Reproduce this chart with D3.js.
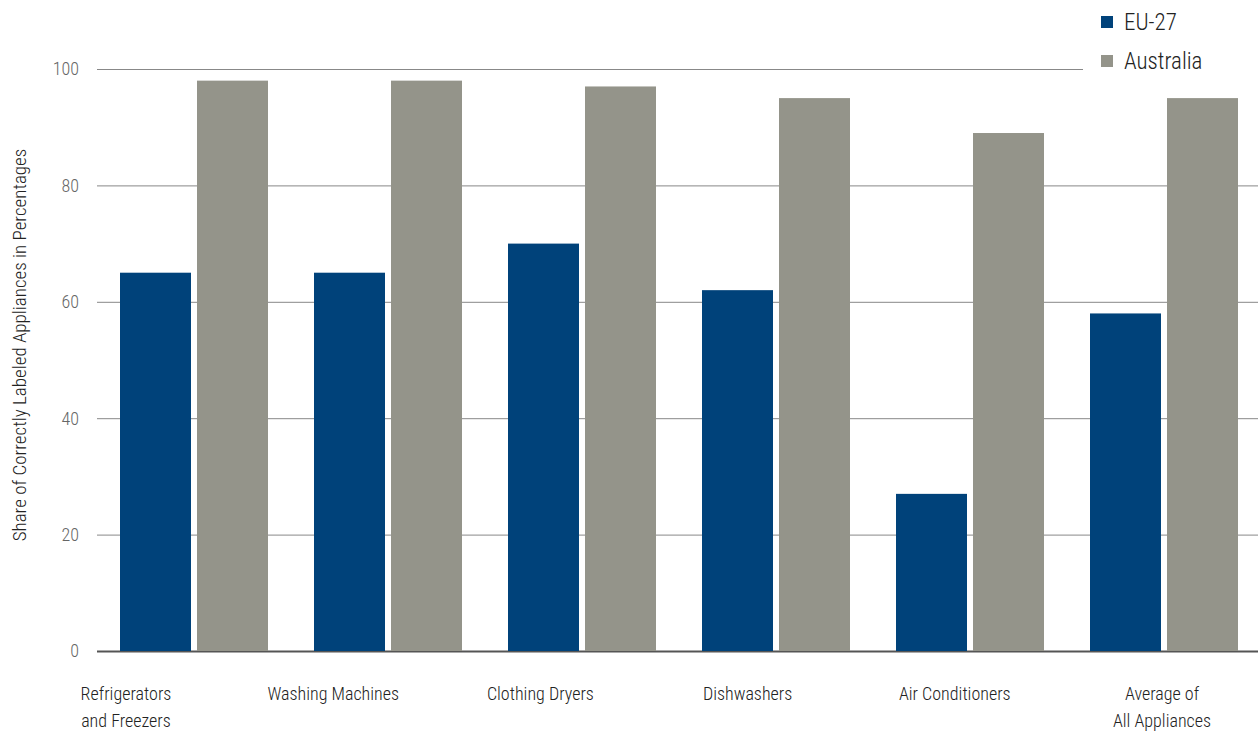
<!DOCTYPE html>
<html>
<head>
<meta charset="utf-8">
<script src="https://cdn.jsdelivr.net/npm/d3@7"></script>
<style>
  body { margin: 0; background: #fff; }
  svg { display: block; font-family: "Roboto Condensed", Roboto, sans-serif; font-stretch: condensed; font-weight: 300; }
</style>
</head>
<body>
<div class="chart"></div>
<script>
// categories and values
const categories = [
  ["Refrigerators", "and Freezers"],
  ["Washing Machines"],
  ["Clothing Dryers"],
  ["Dishwashers"],
  ["Air Conditioners"],
  ["Average of", "All Appliances"]
];
const seriesNames = ["EU-27", "Australia"];
const euValues = [65, 65, 70, 62, 27, 58];
const auValues = [98, 98, 97, 95, 89, 95];
const yTicks = [0, 20, 40, 60, 80, 100];

const colors = { "EU-27": "#00427a", "Australia": "#94948a" };

const outerWidth = 1258;
const outerHeight = 731;
const plot = { left: 97, right: 1261, top: 69, bottom: 651 };

const svg = d3.select('.chart').append('svg')
  .attr('width', outerWidth)
  .attr('height', outerHeight);

const keys = categories.map(c => c.join(' '));
const rows = keys.map((k, i) => ({ key: k, values: [euValues[i], auValues[i]] }));

const x0 = d3.scaleBand()
  .domain(keys)
  .range([plot.left, plot.right])
  .paddingInner(46 / 194)
  .paddingOuter(23 / 194);

const x1 = d3.scaleBand()
  .domain(seriesNames)
  .range([0, x0.bandwidth()])
  .paddingInner(6 / 77);

const y = d3.scaleLinear()
  .domain([0, 100])
  .range([plot.bottom, plot.top]);

// label positions are spread a bit wider than the bars
const xLabel = d3.scalePoint()
  .domain(keys)
  .range([126, 1162]);

// gridlines
const grid = svg.append('g')
  .attr('transform', `translate(${plot.left},0)`)
  .call(d3.axisLeft(y).tickValues(yTicks).tickSize(-(outerWidth - plot.left)).tickFormat(''));
grid.select('.domain').remove();
grid.selectAll('.tick line')
  .attr('stroke', d => d === 0 ? '#555' : '#888')
  .attr('stroke-width', d => d === 0 ? 2 : 1);

// tick labels
svg.append('g').selectAll('text')
  .data(yTicks)
  .join('text')
  .attr('x', 79)
  .attr('y', d => y(d))
  .attr('dy', '0.35em')
  .attr('text-anchor', 'end')
  .attr('fill', '#666')
  .style('font-size', '18px')
  .text(d => d);

// bars
svg.append('g').selectAll('g')
  .data(rows)
  .join('g')
  .attr('transform', d => `translate(${x0(d.key)},0)`)
  .selectAll('rect')
  .data(d => d.values.map((v, i) => ({ name: seriesNames[i], value: v })))
  .join('rect')
  .attr('x', d => x1(d.name))
  .attr('y', d => y(d.value))
  .attr('width', x1.bandwidth())
  .attr('height', d => y(0) - y(d.value))
  .attr('fill', d => colors[d.name]);

// category labels
svg.append('g').selectAll('text')
  .data(categories)
  .join('text')
  .attr('x', (d, i) => xLabel(keys[i]))
  .attr('y', 700)
  .attr('text-anchor', 'middle')
  .attr('fill', '#222')
  .style('font-size', '18px')
  .selectAll('tspan')
  .data(d => d)
  .join('tspan')
  .attr('x', function () { return d3.select(this.parentNode).attr('x'); })
  .attr('dy', (d, i) => i === 0 ? 0 : 27)
  .text(d => d);

// y axis title
svg.append('text')
  .attr('transform', `translate(26, 345) rotate(-90)`)
  .attr('text-anchor', 'middle')
  .attr('fill', '#222')
  .style('font-size', '19px')
  .text('Share of Correctly Labeled Appliances in Percentages');

// legend
const legend = svg.append('g');
legend.append('rect')
  .attr('x', 1083).attr('y', 0)
  .attr('width', outerWidth - 1083).attr('height', 76)
  .attr('fill', '#fff');
const legendItems = legend.selectAll('g')
  .data(seriesNames)
  .join('g')
  .attr('transform', (d, i) => `translate(1101, ${16 + i * 39})`);
legendItems.append('rect')
  .attr('width', 12).attr('height', 12)
  .attr('fill', d => colors[d]);
legendItems.append('text')
  .attr('x', 23).attr('y', 14)
  .attr('fill', '#222')
  .style('font-size', '23px')
  .text(d => d);
</script>
</body>
</html>
